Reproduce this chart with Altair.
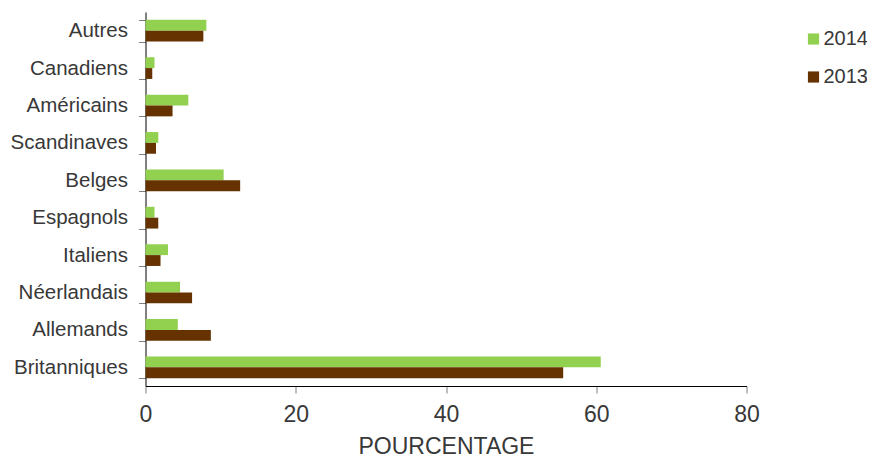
import altair as alt
import pandas as pd

categories = ["Autres", "Canadiens", "Américains", "Scandinaves", "Belges",
              "Espagnols", "Italiens", "Néerlandais", "Allemands", "Britanniques"]
years = ["2014", "2013"]
v2014 = [8.1, 1.2, 5.7, 1.7, 10.4, 1.2, 3.0, 4.6, 4.3, 60.6]
v2013 = [7.7, 0.9, 3.6, 1.4, 12.6, 1.7, 2.0, 6.2, 8.7, 55.6]
colors = ["#92D050", "#663300"]

rows = []
for c, a, b in zip(categories, v2014, v2013):
    rows.append({"cat": c, "year": "2014", "val": a})
    rows.append({"cat": c, "year": "2013", "val": b})
df = pd.DataFrame(rows)

font = "Liberation Sans"
tc = "#383838"
tick_c = "#7f7f7f"

chart = alt.Chart(df).mark_bar().encode(
    y=alt.Y("cat:N", sort=categories, title=None,
            scale=alt.Scale(paddingInner=0.42, paddingOuter=0.21),
            axis=alt.Axis(tickBand="extent", domainColor="black", tickColor=tick_c,
                          tickSize=7, labelPadding=11, labelFontSize=20.5,
                          labelColor=tc, labelFont=font, grid=False)),
    yOffset=alt.YOffset("year:N", sort=years),
    x=alt.X("val:Q", title="POURCENTAGE",
            scale=alt.Scale(domain=[0, 80]),
            axis=alt.Axis(values=[0, 20, 40, 60, 80], grid=False, domainColor="black",
                          tickColor=tick_c, tickSize=7, labelFontSize=23,
                          labelFlush=False,
                          labelColor=tc, labelFont=font, labelPadding=10,
                          titleFontSize=23, titleFontWeight="normal", titleColor=tc,
                          titleFont=font, titlePadding=9)),
    color=alt.Color("year:N", sort=years,
                    scale=alt.Scale(domain=years, range=colors),
                    legend=alt.Legend(title=None, orient="none", legendX=658, legendY=17,
                                      padding=0,
                                      symbolType="square", symbolSize=125,
                                      symbolStrokeWidth=0, labelFontSize=20,
                                      labelColor=tc, labelFont=font, rowPadding=18,
                                      labelOffset=0)),
).properties(
    width=601, height=374,
    autosize=alt.AutoSizeParams(type="none"),
    padding={"left": 137.5, "top": 4, "right": 120, "bottom": 73},
).configure_view(stroke=None)

chart.save("out.html", embed_options={"renderer": "svg", "actions": False})
